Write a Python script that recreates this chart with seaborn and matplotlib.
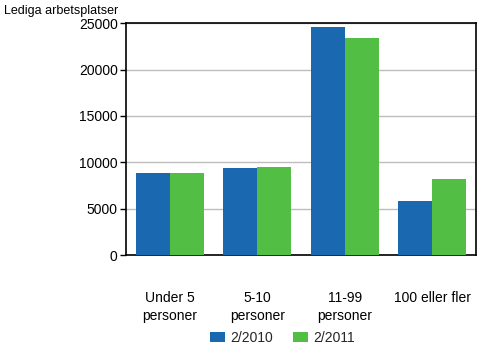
import matplotlib
matplotlib.use("Agg")
import matplotlib.pyplot as plt
import seaborn as sns
import pandas as pd

categories = ["Under 5\npersoner", "5-10\npersoner", "11-99\npersoner", "100 eller fler"]
series_names = ["2/2010", "2/2011"]
values_2010 = [8800, 9400, 24600, 5800]
values_2011 = [8900, 9500, 23400, 8200]
y_ticks = [0, 5000, 10000, 15000, 20000, 25000]

df = pd.DataFrame({
    "kategori": categories * 2,
    "period": [series_names[0]] * 4 + [series_names[1]] * 4,
    "antal": values_2010 + values_2011,
})

sns.set_theme(style="white")
plt.rcParams["font.family"] = ["Liberation Sans", "DejaVu Sans"]

fig = plt.figure(figsize=(5, 3.5), dpi=100)
ax = fig.add_axes([0.252, 0.271, 0.700, 0.663])

sns.barplot(data=df, x="kategori", y="antal", hue="period",
            palette=["#1A69B0", "#52BF44"], width=0.78, saturation=1,
            ax=ax, zorder=3, linewidth=0)

ax.set_ylim(0, 25000)
ax.set_yticks(y_ticks)
ax.set_yticklabels([str(v) for v in y_ticks])
ax.yaxis.grid(True, color="#BDBDBD", linewidth=1, zorder=0)
ax.set_axisbelow(True)
ax.set_xlabel("")
ax.set_ylabel("")
for s in ax.spines.values():
    s.set_color("black")
    s.set_linewidth(1.2)
    s.set_visible(True)

ax.tick_params(axis="y", which="both", left=True, length=4, width=1, color="black",
               labelsize=10, pad=2, labelcolor="black")
ax.tick_params(axis="x", which="both", bottom=False, labelsize=10, pad=20,
               labelcolor="black")
for lbl in ax.get_xticklabels():
    lbl.set_linespacing(1.3)

fig.text(0.008, 0.968, "Lediga arbetsplatser", fontsize=9, color="black",
         ha="left", va="center")

handles, labels = ax.get_legend_handles_labels()
ax.legend_.remove()
fig.legend(handles, labels, loc="center", bbox_to_anchor=(0.565, 0.035), ncol=2,
           frameon=False, fontsize=10, handlelength=1.1, handleheight=0.75,
           columnspacing=1.4, handletextpad=0.4)

fig.savefig("out.png", dpi=100)
